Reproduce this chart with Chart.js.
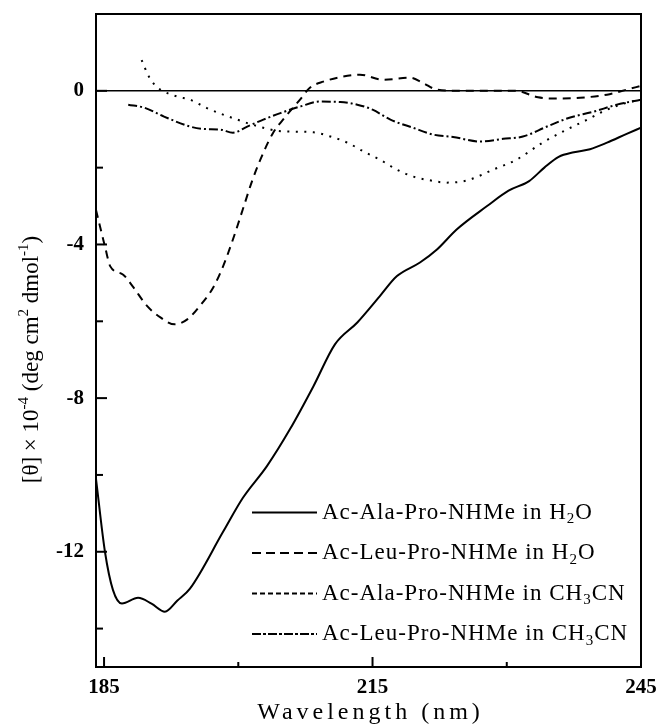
<!DOCTYPE html>
<html><head><meta charset="utf-8">
<script src="https://cdn.jsdelivr.net/npm/chart.js@4.4.1/dist/chart.umd.min.js"></script>
<style>html,body{margin:0;padding:0;background:#fff;} #wrap{position:absolute;left:0;top:0;width:657px;height:728px;}</style>
</head><body><div id="wrap"><canvas id="c" width="657" height="728"></canvas></div>
<script>
// Ac-Ala-Pro-NHMe in H2O (solid)
const alaH2O_nm = [184.1,185.1,186,187,188.8,190.3,191.8,193.2,194.6,198.3,200.5,203.2,205.8,208.4,210.8,213.3,215.8,217.7,220.3,222.2,224.4,227.8,230.2,232.5,234.2,235.8,237.5,239.3,241.2,243.4,245];
const alaH2O_val = [-10.1,-12.0,-13.0,-13.35,-13.2,-13.35,-13.56,-13.27,-12.96,-11.48,-10.6,-9.77,-8.8,-7.69,-6.6,-6.03,-5.35,-4.83,-4.47,-4.13,-3.61,-3.0,-2.6,-2.35,-2.0,-1.72,-1.6,-1.52,-1.35,-1.12,-0.96];
// Ac-Leu-Pro-NHMe in H2O (dashed)
const leuH2O_nm = [184.1,185.1,185.7,187.1,188.2,189.8,191.3,192.9,194.3,195.7,197.2,198.3,199.4,200.5,201.6,202.8,203.9,205,206.9,208,209.5,212.2,213.6,216.2,219.2,220.6,222.2,224.8,231,233.5,235.2,238.2,241.2,243.4,245];
const leuH2O_val = [-3.1,-4.05,-4.57,-4.78,-5.09,-5.6,-5.9,-6.08,-5.95,-5.6,-5.12,-4.57,-3.87,-3.09,-2.31,-1.61,-1.09,-0.75,-0.23,0.08,0.24,0.39,0.42,0.29,0.34,0.21,0.03,0.0,0.0,-0.17,-0.2,-0.18,-0.1,0.03,0.13];
// Ac-Ala-Pro-NHMe in CH3CN (dotted)
const alaCH3CN_nm = [189.2,189.9,190.5,191.3,193.2,194.6,196.5,198.3,199.9,201,202.8,204.3,206,208.4,210.3,212.2,214,215.8,217.7,219.5,221.4,223.3,225.6,228.5,231.1,234,236.7,239,241.2,243.4,245];
const alaCH3CN_val = [0.8,0.42,0.2,0.03,-0.15,-0.23,-0.45,-0.62,-0.75,-0.84,-0.96,-1.04,-1.06,-1.08,-1.19,-1.35,-1.58,-1.79,-2.05,-2.23,-2.33,-2.39,-2.33,-2.05,-1.79,-1.35,-1.01,-0.75,-0.49,-0.31,-0.23];
// Ac-Leu-Pro-NHMe in CH3CN (dash-dot)
const leuCH3CN_nm = [187.7,189.5,191.7,194.6,196,198,199.4,201,202.8,204.7,206.9,209.1,211.4,213.3,215,217,219.5,221.8,224,227,229.6,231.8,234.5,237,239.6,242.3,245];
const leuCH3CN_val = [-0.36,-0.44,-0.67,-0.93,-0.99,-1.01,-1.09,-0.93,-0.75,-0.58,-0.41,-0.28,-0.29,-0.36,-0.49,-0.75,-0.96,-1.14,-1.2,-1.32,-1.25,-1.19,-0.93,-0.7,-0.55,-0.36,-0.23];

const seriesLabels = ['Ac-Ala-Pro-NHMe in H\u2082O','Ac-Leu-Pro-NHMe in H\u2082O','Ac-Ala-Pro-NHMe in CH\u2083CN','Ac-Leu-Pro-NHMe in CH\u2083CN'];
const xTicks = [185,200,215,230,245];
const xTickLabels = ['185','','215','','245'];
const yTicks = [-14,-12,-10,-8,-6,-4,-2,0];
const yTickLabels = ['','-12','','-8','','-4','','0'];
const xTitle = 'Wavelength (nm)';
const yTitleParts = [['[\u03B8] \u00D7 10',0],['-4',1],[' (deg cm',0],['2',1],[' dmol',0],['-1',1],[')',0]];

const FONT = "'Liberation Serif', 'Times New Roman', serif";
const pts = (xs, ys) => xs.map((x, i) => ({x: x, y: ys[i]}));
const curveDash = [[], [8,6], [2,6.5], [9,3,2,3]];
const legendDash = [[], [9,5], [5,3], [9,2,3,2]];

function drawParts(ctx, parts, cx, cy, size, smallSize, spacing) {
  ctx.letterSpacing = spacing + 'px';
  let total = 0;
  const widths = parts.map(([t, m]) => {
    ctx.font = (m ? smallSize : size) + 'px ' + FONT;
    const w = ctx.measureText(t).width;
    total += w;
    return w;
  });
  total -= spacing;
  let x = cx - total / 2;
  ctx.textAlign = 'left';
  ctx.textBaseline = 'middle';
  parts.forEach(([t, m], i) => {
    ctx.font = (m ? smallSize : size) + 'px ' + FONT;
    ctx.fillText(t, x, cy + (m === 1 ? -8 : m === -1 ? 7 : 0));
    x += widths[i];
  });
  ctx.letterSpacing = '0px';
}

const framePlugin = {
  id: 'frame',
  afterDatasetsDraw(chart) {
    const {ctx, chartArea: a, scales: {x, y}} = chart;
    ctx.save();
    ctx.strokeStyle = '#000';
    ctx.setLineDash([]);
    ctx.lineWidth = 1.6;
    const y0 = y.getPixelForValue(0);
    ctx.beginPath(); ctx.moveTo(a.left, y0); ctx.lineTo(a.right, y0); ctx.stroke();
    ctx.lineWidth = 2;
    ctx.strokeRect(a.left, a.top, a.right - a.left, a.bottom - a.top);
    xTicks.forEach((v, i) => {
      const px = x.getPixelForValue(v);
      const len = xTickLabels[i] ? 10 : 5;
      ctx.beginPath(); ctx.moveTo(px, a.bottom); ctx.lineTo(px, a.bottom - len); ctx.stroke();
    });
    yTicks.forEach((v, i) => {
      const py = y.getPixelForValue(v);
      const len = yTickLabels[i] ? 11 : 7;
      ctx.beginPath(); ctx.moveTo(a.left, py); ctx.lineTo(a.left + len, py); ctx.stroke();
    });
    ctx.fillStyle = '#000';
    drawParts(ctx, [[xTitle, 0]], (a.left + a.right) / 2, a.bottom + 46, 24, 15, 4);
    ctx.save();
    ctx.translate(a.left - 64, (a.top + a.bottom) / 2 + 19);
    ctx.rotate(-Math.PI / 2);
    drawParts(ctx, yTitleParts, 0, 0, 23, 15, 0);
    ctx.restore();
    ctx.restore();
  }
};

const subMap = {'\u2082': '2', '\u2083': '3'};
const legendPlugin = {
  id: 'inlegend',
  afterDraw(chart) {
    const {ctx, chartArea: a} = chart;
    ctx.save();
    chart.data.datasets.forEach((ds, i) => {
      const yy = a.bottom - 33 - (3 - i) * 40.5;
      const x1 = a.left + 156, x2 = a.left + 221;
      ctx.strokeStyle = '#000';
      ctx.lineWidth = 2;
      ctx.setLineDash(legendDash[i]);
      ctx.beginPath(); ctx.moveTo(x1, yy); ctx.lineTo(x2, yy); ctx.stroke();
      ctx.setLineDash([]);
      ctx.fillStyle = '#000';
      const parts = [];
      let buf = '';
      for (const ch of ds.label) {
        if (subMap[ch]) { if (buf) parts.push([buf, 0]); buf = ''; parts.push([subMap[ch], -1]); }
        else buf += ch;
      }
      if (buf) parts.push([buf, 0]);
      ctx.letterSpacing = '1px';
      let w = 0;
      parts.forEach(([t, m]) => { ctx.font = (m ? 15 : 23) + 'px ' + FONT; w += ctx.measureText(t).width; });
      ctx.letterSpacing = '0px';
      drawParts(ctx, parts, a.left + 226 + (w - 1) / 2, yy, 23, 15, 1);
    });
    ctx.restore();
  }
};

const styles = seriesLabels.map((l, i) => ({
  label: l,
  borderColor: '#000',
  backgroundColor: '#000',
  borderWidth: 2,
  borderDash: curveDash[i],
  pointRadius: 0,
  fill: false,
  cubicInterpolationMode: 'monotone'
}));
const seriesData = [pts(alaH2O_nm, alaH2O_val), pts(leuH2O_nm, leuH2O_val), pts(alaCH3CN_nm, alaCH3CN_val), pts(leuCH3CN_nm, leuCH3CN_val)];

new Chart(document.getElementById('c'), {
  type: 'line',
  data: { datasets: styles.map((s, i) => Object.assign({}, s, {data: seriesData[i]})) },
  options: {
    responsive: false,
    animation: false,
    devicePixelRatio: 1,
    layout: { padding: { left: 0, right: 16, top: 14, bottom: 0 } },
    plugins: { legend: { display: false }, tooltip: { enabled: false } },
    scales: {
      x: {
        type: 'linear', min: 184.1, max: 245,
        afterBuildTicks: s => { s.ticks = xTicks.map(v => ({value: v})); },
        afterFit: s => { s.height = 61; s.paddingRight = 0; s.paddingLeft = 0; },
        grid: { display: false, drawTicks: false },
        border: { display: false },
        ticks: {
          autoSkip: false, maxRotation: 0, padding: 8, color: '#000',
          font: { family: FONT, size: 21, weight: 'bold' },
          callback: v => { const i = xTicks.indexOf(v); return i >= 0 ? xTickLabels[i] : ''; }
        },
        title: { display: false }
      },
      y: {
        min: -15, max: 2,
        afterBuildTicks: s => { s.ticks = yTicks.map(v => ({value: v})); },
        afterFit: s => { s.width = 96; s.paddingTop = 0; s.paddingBottom = 0; },
        grid: { display: false, drawTicks: false },
        border: { display: false },
        ticks: {
          autoSkip: false, padding: 12, color: '#000',
          font: { family: FONT, size: 21, weight: 'bold' },
          callback: v => { const i = yTicks.indexOf(v); return i >= 0 ? yTickLabels[i] : ''; }
        },
        title: { display: false }
      }
    }
  },
  plugins: [framePlugin, legendPlugin]
});
</script></body></html>
